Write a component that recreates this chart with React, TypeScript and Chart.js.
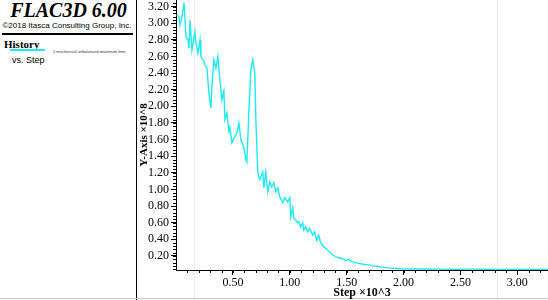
import React, { useEffect, useRef } from "react";
import { Chart, registerables } from "chart.js";

Chart.register(...registerables);

// History: step (x10^3) vs unbalanced force (x10^8)
const steps = [
  0.005, 0.026, 0.035, 0.053, 0.07, 0.088, 0.105, 0.114, 0.123, 0.14, 0.167, 0.175, 0.193, 0.211,
  0.219, 0.246, 0.254, 0.272, 0.289, 0.307, 0.316, 0.333, 0.351, 0.368, 0.386, 0.404, 0.421, 0.43,
  0.447, 0.465, 0.474, 0.491, 0.518, 0.535, 0.553, 0.57, 0.596, 0.614, 0.623, 0.64, 0.658, 0.675,
  0.693, 0.702, 0.719, 0.728, 0.737, 0.763, 0.772, 0.789, 0.807, 0.825, 0.842, 0.86, 0.877, 0.895,
  0.912, 0.939, 0.956, 0.982, 1.0, 1.009, 1.026, 1.035, 1.07, 1.079, 1.096, 1.114, 1.123, 1.14,
  1.158, 1.175, 1.202, 1.219, 1.237, 1.254, 1.272, 1.298, 1.333, 1.377, 1.421, 1.474, 1.491, 1.518,
  1.544, 1.605, 1.649, 1.684, 1.728, 1.772, 1.816, 1.86, 1.93, 1.974, 2.149, 2.3, 2.45, 2.6, 2.8,
  3.0, 3.27,
];
const unbalanced = [
  3.1, 3.08, 2.98, 3.08, 3.25, 2.84, 2.8, 2.7, 3.04, 2.68, 2.9, 2.77, 2.64, 2.8,
  2.6, 2.54, 2.5, 2.46, 2.16, 1.98, 2.24, 2.56, 2.46, 2.6, 2.32, 2.08, 2.18, 1.84,
  1.92, 1.7, 1.75, 1.56, 1.64, 1.68, 1.8, 1.6, 1.51, 1.36, 1.33, 1.92, 2.44, 2.56,
  2.4, 1.84, 1.22, 1.15, 1.12, 1.21, 1.02, 1.21, 0.97, 1.09, 1.03, 1.08, 0.97, 1.02,
  0.91, 0.84, 0.9, 0.85, 0.9, 0.67, 0.78, 0.66, 0.6, 0.61, 0.55, 0.6, 0.51, 0.55,
  0.49, 0.53, 0.45, 0.49, 0.39, 0.45, 0.36, 0.31, 0.27, 0.21, 0.18, 0.16, 0.14, 0.16,
  0.13, 0.11, 0.1, 0.095, 0.08, 0.075, 0.065, 0.055, 0.05, 0.045, 0.042, 0.04, 0.038, 0.04, 0.037,
  0.038, 0.037,
];

const xTickValues = [0.5, 1.0, 1.5, 2.0, 2.5, 3.0];
const yTickValues = [0.2, 0.4, 0.6, 0.8, 1.0, 1.2, 1.4, 1.6, 1.8, 2.0, 2.2, 2.4, 2.6, 2.8, 3.0, 3.2];
const xRange = [0, 3.27];
const yRange = [0.03, 3.28];
const xMinorStep = 0.1;
const yMinorStep = 0.04;

const SERIF = "'Liberation Serif', 'Times New Roman', serif";
const SANS = "'Liberation Sans', Arial, sans-serif";
const CYAN = "#1CEBF2";

const minorTicks = {
  id: "minorTicks",
  afterDraw(chart: any) {
    const { ctx, chartArea } = chart;
    const xs = chart.scales.x;
    const ys = chart.scales.y;
    ctx.save();
    ctx.strokeStyle = "#000";
    ctx.lineWidth = 1;
    ctx.beginPath();
    for (let k = 1; k * yMinorStep <= yRange[1]; k++) {
      const v = k * yMinorStep;
      const py = Math.round(ys.getPixelForValue(v)) + 0.5;
      ctx.moveTo(chartArea.left - 3, py);
      ctx.lineTo(chartArea.left, py);
    }
    for (let k = 1; k * xMinorStep <= xRange[1]; k++) {
      const v = k * xMinorStep;
      const px = Math.round(xs.getPixelForValue(v)) + 0.5;
      ctx.moveTo(px, chartArea.bottom);
      ctx.lineTo(px, chartArea.bottom + 3);
    }
    ctx.stroke();
    ctx.restore();
  },
};

function HistoryChart() {
  const ref = useRef<HTMLCanvasElement | null>(null);
  useEffect(() => {
    if (!ref.current) return;
    const chart = new Chart(ref.current, {
      type: "line",
      data: {
        datasets: [
          {
            label: "1 mechanical unbalanced-maximum limit",
            data: steps.map((s, i) => ({ x: s, y: unbalanced[i] })),
            borderColor: CYAN,
            borderWidth: 1.4,
            pointRadius: 0,
            tension: 0,
            fill: false,
          },
        ],
      },
      options: {
        animation: false,
        responsive: false,
        maintainAspectRatio: false,
        layout: { padding: 0 },
        plugins: { legend: { display: false }, tooltip: { enabled: false } },
        scales: {
          x: {
            type: "linear",
            min: xRange[0],
            max: xRange[1],
            afterBuildTicks: (s: any) => {
              s.ticks = xTickValues.map((v) => ({ value: v }));
            },
            afterFit: (s: any) => {
              s.height = 30;
              s.paddingLeft = 0;
              s.paddingRight = 0;
            },
            ticks: {
              autoSkip: false,
              maxRotation: 0,
              padding: 1,
              color: "#000",
              font: { family: SERIF, size: 12 },
              callback: (v: any) => Number(v).toFixed(2),
            },
            grid: { drawOnChartArea: false, drawTicks: true, tickLength: 5, color: "#000" },
            border: { color: "#000", width: 1 },
            title: {
              display: true,
              text: "Step ×10^3",
              color: "#000",
              font: { family: SERIF, size: 12, weight: "bold" },
              padding: { top: 0, bottom: 0 },
            },
          },
          y: {
            type: "linear",
            min: yRange[0],
            max: yRange[1],
            afterBuildTicks: (s: any) => {
              s.ticks = yTickValues.map((v) => ({ value: v }));
            },
            afterFit: (s: any) => {
              s.width = 39;
              s.paddingTop = 0;
              s.paddingBottom = 0;
            },
            ticks: {
              autoSkip: false,
              padding: 2,
              color: "#000",
              font: { family: SERIF, size: 12 },
              callback: (v: any) => Number(v).toFixed(2),
            },
            grid: { drawOnChartArea: false, drawTicks: true, tickLength: 5, color: "#000" },
            border: { color: "#000", width: 1 },
            title: {
              display: true,
              text: "Y-Axis ×10^8",
              color: "#000",
              font: { family: SERIF, size: 11, weight: "bold" },
              padding: { top: 1, bottom: 0 },
            },
          },
        },
      },
      plugins: [minorTicks],
    } as any);
    return () => chart.destroy();
  }, []);
  return (
    <canvas
      ref={ref}
      width={411}
      height={300}
      style={{ position: "absolute", left: 137, top: 0, width: 411, height: 300 }}
    />
  );
}

export default function App() {
  useEffect(() => {
    document.body.style.margin = "0";
  }, []);
  const abs = (s: React.CSSProperties): React.CSSProperties => ({ position: "absolute", ...s });
  return (
    <div
      style={{
        position: "fixed",
        left: 0,
        top: 0,
        width: 548,
        height: 300,
        background: "#fff",
        overflow: "hidden",
      }}
    >
      {/* faint page lines */}
      <div style={abs({ left: 194, top: 0, width: 1, height: 298, background: "#ececec" })} />
      <div style={abs({ left: 497, top: 0, width: 1, height: 298, background: "#ececec" })} />
      {/* left panel */}
      <div
        style={abs({
          left: 0,
          top: 0,
          width: 137,
          textAlign: "center",
          fontFamily: SERIF,
          fontWeight: "bold",
          fontStyle: "italic",
          fontSize: 20,
          lineHeight: "20px",
          color: "#000",
          whiteSpace: "nowrap",
        })}
      >
        FLAC3D 6.00
      </div>
      <div
        style={abs({
          left: 0,
          top: 22.2,
          width: 134,
          textAlign: "center",
          fontFamily: SANS,
          fontSize: 8,
          lineHeight: "8px",
          color: "#000",
          whiteSpace: "nowrap",
        })}
      >
        ©2018 Itasca Consulting Group, Inc.
      </div>
      <div style={abs({ left: 2, top: 33, width: 131, height: 1.5, background: "#000" })} />
      <div
        style={abs({
          left: 4,
          top: 38.8,
          fontFamily: SERIF,
          fontWeight: "bold",
          fontSize: 11,
          lineHeight: "11px",
          color: "#000",
          whiteSpace: "nowrap",
        })}
      >
        History
      </div>
      <div style={abs({ left: 10, top: 49, width: 35, height: 1.5, background: CYAN })} />
      <div
        style={abs({
          left: 53,
          top: 49.6,
          fontFamily: SANS,
          fontSize: 4,
          lineHeight: "4px",
          color: "#333",
          whiteSpace: "nowrap",
        })}
      >
        1 mechanical unbalanced-maximum limit
      </div>
      <div
        style={abs({
          left: 12,
          top: 56.4,
          fontFamily: SANS,
          fontSize: 9,
          lineHeight: "9px",
          color: "#000",
          whiteSpace: "nowrap",
        })}
      >
        vs. Step
      </div>
      <div style={abs({ left: 136, top: 0, width: 1, height: 300, background: "#000" })} />
      <div style={abs({ left: 0, top: 298, width: 548, height: 1, background: "#c8c8c8" })} />
      <HistoryChart />
    </div>
  );
}
